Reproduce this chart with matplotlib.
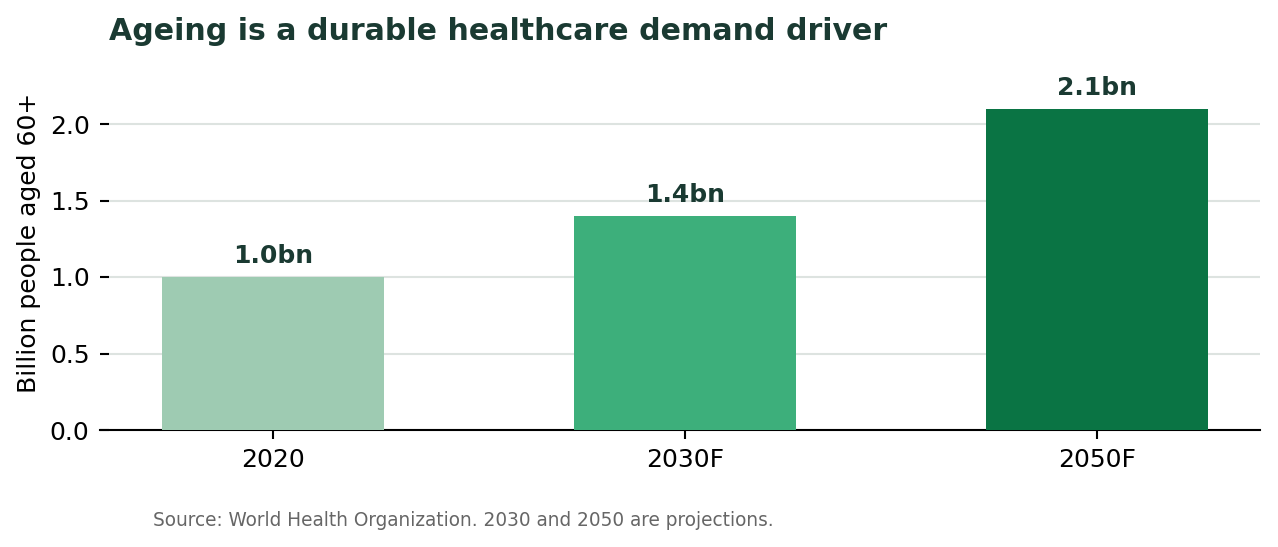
import matplotlib
matplotlib.use("Agg")
import matplotlib.pyplot as plt

# data
years = ["2020", "2030F", "2050F"]
people_60plus = [1.0, 1.4, 2.1]
bar_labels = ["1.0bn", "1.4bn", "2.1bn"]
bar_colors = ["#9ecbb2", "#3daf7b", "#0a7444"]
yticks = [0.0, 0.5, 1.0, 1.5, 2.0]

dark = "#1a3a32"

fig = plt.figure(figsize=(1278 / 150, 547 / 150), dpi=150)
# 153 px per unit on y; axes top ~2.44
ax = fig.add_axes([100 / 1278, 117 / 547, 1160 / 1278, 2.44 * 153 / 547])

x = range(len(years))
ax.bar(x, people_60plus, width=0.54, color=bar_colors, zorder=3)
for i, v in enumerate(people_60plus):
    ax.text(i, v + 0.06, bar_labels[i], ha="center", va="bottom",
            fontsize=12, fontweight="bold", color=dark)

ax.set_xticks(list(x))
ax.set_xticklabels(years, fontsize=12)
ax.set_yticks(yticks)
ax.set_yticklabels([f"{t:.1f}" for t in yticks], fontsize=12)
ax.set_xlim(-0.42, 2.395)
ax.set_ylim(0, 2.44)
ax.set_ylabel("Billion people aged 60+", fontsize=12, labelpad=4)

ax.grid(axis="y", color="#dde3e0", linewidth=1, zorder=0)
ax.set_axisbelow(True)
for s in ["top", "right", "left"]:
    ax.spines[s].set_visible(False)
ax.spines["bottom"].set_linewidth(1.0)
ax.tick_params(axis="y", direction="in", length=4.5, width=1, pad=5)
ax.tick_params(axis="x", length=4.5, width=1, pad=4)

fig.text(109 / 1278, 1 - 32 / 547, "Ageing is a durable healthcare demand driver",
         fontsize=14.4, fontweight="bold", color=dark, ha="left", va="center")
fig.text(153 / 1278, 1 - 520 / 547,
         "Source: World Health Organization. 2030 and 2050 are projections.",
         fontsize=8.9, color="#666666", ha="left", va="center")

fig.savefig("out.png", dpi=150)
